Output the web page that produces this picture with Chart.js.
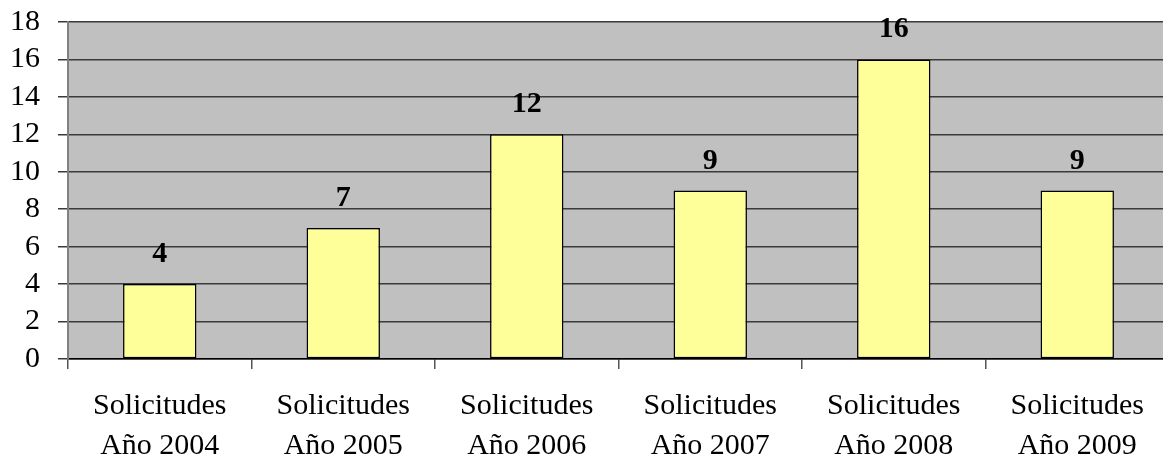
<!DOCTYPE html>
<html>
<head>
<meta charset="utf-8">
<script src="https://cdn.jsdelivr.net/npm/chart.js@4.4.0/dist/chart.umd.min.js"></script>
<style>
  html, body { margin: 0; padding: 0; background: #fff; overflow: hidden; }
</style>
</head>
<body>
<canvas id="grafico" width="1169" height="459"></canvas>
<script>
// datos
const categorias = [
  ['Solicitudes', 'Año 2004'],
  ['Solicitudes', 'Año 2005'],
  ['Solicitudes', 'Año 2006'],
  ['Solicitudes', 'Año 2007'],
  ['Solicitudes', 'Año 2008'],
  ['Solicitudes', 'Año 2009']
];
const solicitudes = [4, 7, 12, 9, 16, 9];
const ejeY = { min: 0, max: 18, paso: 2 };

const fuente = "'Liberation Serif', 'Times New Roman', serif";

// fondo gris del area de trazado
const fondoGris = {
  id: 'fondoGris',
  beforeDraw(chart) {
    const { ctx, chartArea: a } = chart;
    ctx.save();
    ctx.fillStyle = '#C0C0C0';
    ctx.fillRect(a.left, a.top, a.right - a.left, a.bottom - a.top);
    ctx.restore();
  }
};

// valores encima de cada barra
const etiquetas = {
  id: 'etiquetas',
  afterDatasetsDraw(chart) {
    const ctx = chart.ctx;
    const meta = chart.getDatasetMeta(0);
    ctx.save();
    ctx.font = 'bold 30px ' + fuente;
    ctx.fillStyle = '#000';
    ctx.textAlign = 'center';
    ctx.textBaseline = 'alphabetic';
    meta.data.forEach((bar, i) => {
      ctx.fillText(String(solicitudes[i]), bar.x, bar.y - 22);
    });
    ctx.restore();
  }
};

new Chart(document.getElementById('grafico'), {
  type: 'bar',
  data: {
    labels: categorias,
    datasets: [{
      data: solicitudes,
      backgroundColor: '#FFFF99',
      borderColor: '#000',
      borderWidth: 1.5,
      borderSkipped: false,
      barPercentage: 0.4,
      categoryPercentage: 1
    }]
  },
  options: {
    responsive: false,
    animation: false,
    devicePixelRatio: 1,
    layout: { padding: { top: 22, left: 0, right: 0, bottom: 0 } },
    plugins: {
      legend: { display: false },
      tooltip: { enabled: false }
    },
    scales: {
      x: {
        afterFit(scale) { scale.height = 100; scale.paddingLeft = 0; scale.paddingRight = 0; },
        border: { display: true, color: '#000', width: 1.5 },
        grid: {
          offset: true,
          drawOnChartArea: false,
          drawTicks: true,
          tickLength: 10,
          color: '#555',
          lineWidth: 1.5
        },
        ticks: {
          color: '#000',
          padding: 17,
          maxRotation: 0,
          font: { family: fuente, size: 30, lineHeight: 1.3333 }
        }
      },
      y: {
        min: ejeY.min,
        max: ejeY.max,
        afterFit(scale) { scale.width = 68; scale.paddingTop = 0; scale.paddingBottom = 0; },
        border: { display: true, color: '#808080', width: 2 },
        grid: {
          color: '#3a3a3a',
          lineWidth: 1.5,
          tickLength: 10
        },
        ticks: {
          stepSize: ejeY.paso,
          autoSkip: false,
          color: '#000',
          padding: 18,
          font: { family: fuente, size: 30 }
        }
      }
    }
  },
  plugins: [fondoGris, etiquetas]
});
</script>
</body>
</html>
